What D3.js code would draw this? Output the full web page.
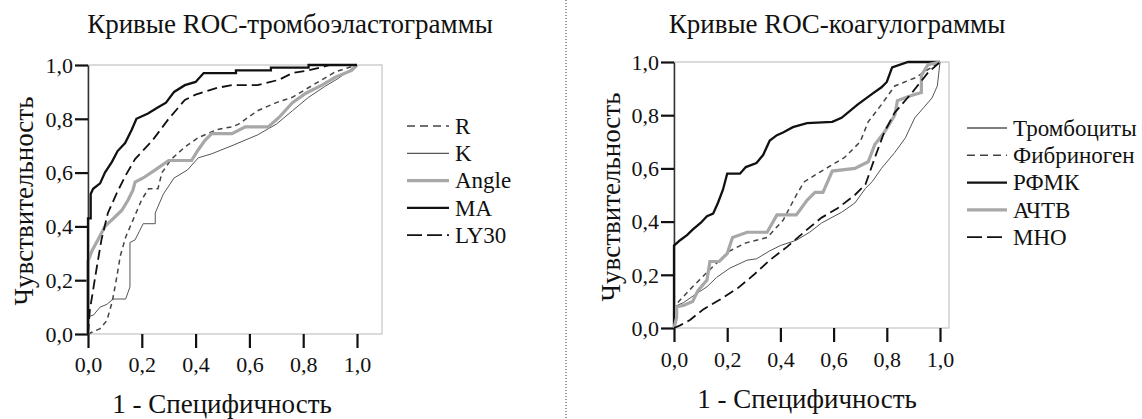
<!DOCTYPE html>
<html>
<head>
<meta charset="utf-8">
<script src="https://cdn.jsdelivr.net/npm/d3@7"></script>
<style>
  body { margin: 0; background: #fff; }
  svg text { font-family: "Liberation Serif", "Times New Roman", serif; fill: #111; }
</style>
</head>
<body>
<div id="chart"></div>
<script>
// chart size (same as the window)
var W = 1142, H = 419;

// tick values for both axes
var ticks = [0, 0.2, 0.4, 0.6, 0.8, 1.0];

// left panel - thromboelastogram ROC curves, [1-spec, sens]
var titleLeft = "Кривые ROC-тромбоэластограммы";
var namesLeft = ["R", "K", "Angle", "MA", "LY30"];
var R = [[0,0],[0.045,0.02],[0.07,0.05],[0.09,0.12],[0.105,0.2],[0.12,0.29],[0.14,0.36],[0.2,0.5],[0.225,0.54],[0.26,0.54],[0.275,0.6],[0.31,0.65],[0.36,0.695],[0.41,0.73],[0.48,0.76],[0.535,0.77],[0.56,0.78],[0.63,0.83],[0.7,0.86],[0.76,0.88],[0.81,0.91],[0.87,0.945],[0.92,0.975],[1,1]];
var K = [[0,0],[0,0.065],[0.02,0.07],[0.045,0.1],[0.07,0.11],[0.093,0.13],[0.14,0.13],[0.156,0.175],[0.156,0.34],[0.175,0.35],[0.19,0.38],[0.205,0.41],[0.25,0.41],[0.25,0.45],[0.28,0.52],[0.32,0.58],[0.37,0.61],[0.41,0.655],[0.46,0.67],[0.51,0.69],[0.535,0.7],[0.63,0.74],[0.7,0.78],[0.76,0.83],[0.82,0.88],[0.88,0.92],[0.93,0.95],[1,1]];
var Angle = [[0,0],[0,0.27],[0.015,0.31],[0.037,0.35],[0.063,0.4],[0.1,0.435],[0.126,0.46],[0.15,0.5],[0.167,0.535],[0.175,0.565],[0.205,0.58],[0.25,0.61],[0.3,0.645],[0.385,0.645],[0.41,0.685],[0.435,0.72],[0.46,0.745],[0.535,0.745],[0.585,0.77],[0.67,0.77],[0.71,0.805],[0.76,0.86],[0.81,0.895],[0.87,0.925],[0.92,0.955],[0.98,0.98],[1,1]];
var MA = [[0,0],[0,0.43],[0.01,0.43],[0.01,0.52],[0.019,0.54],[0.045,0.56],[0.063,0.6],[0.089,0.64],[0.11,0.68],[0.138,0.71],[0.163,0.76],[0.18,0.8],[0.223,0.82],[0.256,0.84],[0.29,0.86],[0.32,0.9],[0.36,0.925],[0.4,0.937],[0.43,0.97],[0.55,0.97],[0.55,0.98],[0.68,0.98],[0.68,0.99],[0.82,0.99],[0.82,1],[1,1]];
var LY30 = [[0,0],[0.007,0.09],[0.02,0.17],[0.033,0.25],[0.05,0.35],[0.074,0.45],[0.11,0.53],[0.14,0.59],[0.175,0.65],[0.24,0.72],[0.3,0.8],[0.36,0.87],[0.4,0.89],[0.48,0.915],[0.535,0.925],[0.63,0.925],[0.71,0.945],[0.76,0.97],[0.82,0.98],[0.9,1],[1,1]];

// right panel - coagulogram ROC curves
var titleRight = "Кривые ROC-коагулограммы";
var namesRight = ["Тромбоциты", "Фибриноген", "РФМК", "АЧТВ", "МНО"];
var Platelets = [[0,0],[0,0.08],[0.035,0.095],[0.086,0.13],[0.124,0.155],[0.16,0.19],[0.21,0.225],[0.275,0.255],[0.31,0.26],[0.36,0.29],[0.4,0.31],[0.46,0.33],[0.51,0.36],[0.555,0.395],[0.63,0.435],[0.68,0.47],[0.72,0.525],[0.745,0.55],[0.78,0.6],[0.83,0.66],[0.87,0.715],[0.905,0.79],[0.94,0.83],[0.97,0.865],[0.99,0.91],[1,1]];
var Fibrinogen = [[0,0],[0,0.08],[0.023,0.105],[0.07,0.155],[0.135,0.22],[0.21,0.29],[0.27,0.32],[0.35,0.34],[0.41,0.405],[0.46,0.5],[0.49,0.55],[0.555,0.59],[0.64,0.64],[0.7,0.7],[0.73,0.775],[0.78,0.84],[0.83,0.91],[0.905,0.94],[1,1]];
var RFMK = [[0,0],[0,0.31],[0.023,0.33],[0.05,0.35],[0.07,0.37],[0.1,0.395],[0.124,0.42],[0.147,0.43],[0.165,0.47],[0.184,0.52],[0.2,0.58],[0.248,0.58],[0.27,0.605],[0.31,0.62],[0.335,0.65],[0.36,0.705],[0.387,0.725],[0.41,0.735],[0.447,0.755],[0.5,0.77],[0.595,0.775],[0.63,0.79],[0.69,0.84],[0.745,0.88],[0.78,0.905],[0.8,0.925],[0.82,0.98],[0.88,1],[1,1]];
var APTT = [[0,0],[0.01,0.04],[0.01,0.08],[0.035,0.085],[0.07,0.1],[0.09,0.14],[0.124,0.18],[0.135,0.25],[0.17,0.25],[0.2,0.28],[0.22,0.34],[0.275,0.36],[0.35,0.36],[0.387,0.425],[0.46,0.425],[0.5,0.48],[0.53,0.51],[0.56,0.51],[0.595,0.59],[0.68,0.6],[0.73,0.625],[0.755,0.69],[0.79,0.735],[0.83,0.8],[0.84,0.855],[0.895,0.875],[0.93,0.885],[0.93,0.95],[0.955,0.99],[1,1]];
var INR = [[0,0],[0.023,0.01],[0.06,0.03],[0.11,0.07],[0.17,0.105],[0.24,0.15],[0.3,0.2],[0.36,0.255],[0.425,0.305],[0.5,0.37],[0.555,0.415],[0.615,0.45],[0.68,0.5],[0.72,0.54],[0.755,0.64],[0.79,0.735],[0.83,0.81],[0.895,0.885],[0.955,0.96],[1,1]];

// line styles, same order as the names
var styleLeft = [
  {color: "#444", width: 1.5, dash: "5,4"},
  {color: "#555", width: 1, dash: null},
  {color: "#a8a8a8", width: 3.2, dash: null},
  {color: "#111", width: 2.3, dash: null},
  {color: "#111", width: 1.8, dash: "10,5"}
];
var styleRight = [
  {color: "#555", width: 1, dash: null},
  {color: "#444", width: 1.5, dash: "5,4"},
  {color: "#111", width: 2.3, dash: null},
  {color: "#a8a8a8", width: 3.2, dash: null},
  {color: "#111", width: 1.8, dash: "10,5"}
];

var svg = d3.select("#chart").append("svg")
  .attr("width", W).attr("height", H);

var fmt = function(d){ return d3.format(".1f")(d).replace(".", ","); };

function drawPanel(p){
  var x = d3.scaleLinear().domain([0, 1]).range([p.left, p.x1]);
  var y = d3.scaleLinear().domain([0, 1]).range([p.bottom, p.top]);
  var g = svg.append("g");

  // light frame
  g.append("rect")
    .attr("x", p.left).attr("y", p.top)
    .attr("width", p.frameRight - p.left).attr("height", p.bottom - p.top)
    .attr("fill", "none").attr("stroke", "#c4c4c4").attr("stroke-width", 1.2);

  var xa = g.append("g").attr("transform", "translate(0," + p.bottom + ")")
    .call(d3.axisBottom(x).tickValues(ticks).tickFormat(fmt).tickSize(14).tickSizeOuter(0));
  xa.select(".domain").remove();
  xa.selectAll("line").attr("stroke", "#111").attr("stroke-width", 2.2);
  xa.selectAll("text").attr("font-size", 22).attr("font-family", "Liberation Serif")
    .attr("y", p.tickLabY).attr("dy", 0);

  var ya = g.append("g").attr("transform", "translate(" + p.left + ",0)")
    .call(d3.axisLeft(y).tickValues(ticks).tickFormat(fmt).tickSize(13).tickSizeOuter(0));
  ya.select(".domain").attr("stroke", "#333").attr("stroke-width", 1.5);
  ya.selectAll("line").attr("stroke", "#111").attr("stroke-width", 2.2);
  ya.selectAll("text").attr("font-size", 22).attr("font-family", "Liberation Serif")
    .attr("x", -15).attr("dy", "0.33em");

  var line = d3.line().x(function(d){ return x(d[0]); }).y(function(d){ return y(d[1]); });

  p.series.forEach(function(s, i){
    var st = p.styles[i];
    g.append("path")
      .datum(s)
      .attr("fill", "none")
      .attr("stroke", st.color)
      .attr("stroke-width", st.width)
      .attr("stroke-dasharray", st.dash)
      .attr("stroke-linejoin", "miter")
      .attr("d", line);
  });

  // legend
  var leg = g.append("g");
  p.names.forEach(function(n, i){
    var st = p.styles[i];
    var ly = p.legY + i * 27.3;
    leg.append("line")
      .attr("x1", p.legX).attr("x2", p.legX + p.legLen)
      .attr("y1", ly).attr("y2", ly)
      .attr("stroke", st.color).attr("stroke-width", Math.max(st.width, 1.3))
      .attr("stroke-dasharray", st.dash ? (st.dash == "5,4" ? "8,5" : "15,5") : null);
    leg.append("text")
      .attr("x", p.legX + p.legLen + 6).attr("y", ly).attr("dy", "0.34em")
      .attr("font-size", 23).attr("font-family", "Liberation Serif").text(n);
  });

  svg.append("text").attr("x", p.titleX).attr("y", 33)
    .attr("text-anchor", "middle").attr("font-size", 27).attr("font-family", "Liberation Serif").text(p.title);

  svg.append("text").attr("x", p.xTitleX).attr("y", p.xTitleY)
    .attr("text-anchor", "middle").attr("font-size", 27).attr("font-family", "Liberation Serif").text("1 - Специфичность");

  svg.append("text")
    .attr("transform", "translate(" + p.yTitleX + "," + p.yTitleY + ") rotate(-90)")
    .attr("text-anchor", "middle").attr("font-size", 27).attr("font-family", "Liberation Serif").text("Чувствительность");
}

drawPanel({
  left: 88, x1: 357, frameRight: 382, top: 65, bottom: 334, tickLabY: 38,
  series: [R, K, Angle, MA, LY30], names: namesLeft, styles: styleLeft,
  legX: 407, legLen: 42, legY: 126, title: titleLeft, titleX: 290,
  xTitleX: 222, xTitleY: 413, yTitleX: 33, yTitleY: 201
});

drawPanel({
  left: 674, x1: 940, frameRight: 949, top: 62, bottom: 328, tickLabY: 39,
  series: [Platelets, Fibrinogen, RFMK, APTT, INR], names: namesRight, styles: styleRight,
  legX: 967, legLen: 40, legY: 128, title: titleRight, titleX: 837,
  xTitleX: 807, xTitleY: 408, yTitleX: 620, yTitleY: 197
});

// dotted separator between the two charts
svg.append("line")
  .attr("x1", 566).attr("x2", 566).attr("y1", 0).attr("y2", H)
  .attr("stroke", "#333").attr("stroke-width", 1).attr("stroke-dasharray", "1,2");
</script>
</body>
</html>
